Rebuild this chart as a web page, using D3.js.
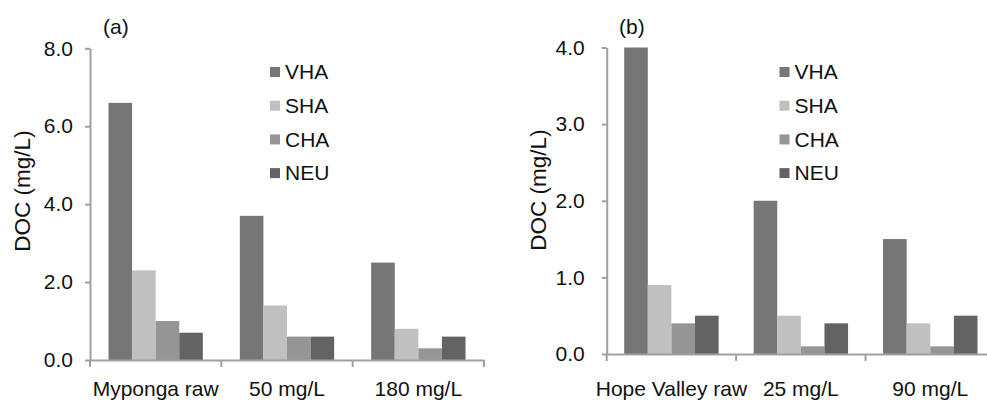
<!DOCTYPE html>
<html>
<head>
<meta charset="utf-8">
<script src="https://cdn.jsdelivr.net/npm/d3@7"></script>
<style>
  html, body { margin: 0; padding: 0; background: #fff; }
  svg text { font-family: "Liberation Sans", Arial, sans-serif; fill: #111; }
</style>
</head>
<body>
<svg id="chart" width="987" height="404"></svg>
<script>
// ---- Data ----
const series = ["VHA", "SHA", "CHA", "NEU"];
const colors = ["#767676", "#c0c0c0", "#959595", "#636363"];

const categoriesA = ["Myponga raw", "50 mg/L", "180 mg/L"];
const vhaA = [6.6, 3.7, 2.5];
const shaA = [2.3, 1.4, 0.8];
const chaA = [1.0, 0.6, 0.3];
const neuA = [0.7, 0.6, 0.6];
const ticksA = [0, 2, 4, 6, 8];

const categoriesB = ["Hope Valley raw", "25 mg/L", "90 mg/L"];
const vhaB = [4.0, 2.0, 1.5];
const shaB = [0.9, 0.5, 0.4];
const chaB = [0.4, 0.1, 0.1];
const neuB = [0.5, 0.4, 0.5];
const ticksB = [0, 1, 2, 3, 4];

const svg = d3.select("#chart");
const FS = "21px";

function panel(cfg) {
  const g = svg.append("g");
  const x = d3.scaleBand().domain(cfg.categories).range([cfg.x0, cfg.x1]).padding(0);
  const y = d3.scaleLinear().domain([0, cfg.ymax]).range([cfg.y0, cfg.ytop]);
  const xs = d3.scaleBand().domain(series)
    .range([cfg.groupPad, x.bandwidth() - cfg.groupPad]).padding(0);

  const data = cfg.categories.map((c, i) => ({
    cat: c,
    vals: cfg.values.map((arr, k) => ({ s: series[k], v: arr[i], color: colors[k] }))
  }));

  // bars
  const groups = g.selectAll("g.grp").data(data).join("g")
    .attr("transform", d => `translate(${x(d.cat)},0)`);
  groups.selectAll("rect").data(d => d.vals).join("rect")
    .attr("x", d => xs(d.s))
    .attr("width", xs.bandwidth())
    .attr("y", d => y(d.v))
    .attr("height", d => y(0) - y(d.v))
    .attr("fill", d => d.color);

  // y axis
  const yAxis = d3.axisLeft(y).tickValues(cfg.ticks).tickFormat(d3.format(".1f"))
    .tickSize(5).tickPadding(cfg.tickPad).tickSizeOuter(0);
  const ya = g.append("g").attr("transform", `translate(${cfg.x0},0)`).call(yAxis);
  ya.attr("font-size", null).attr("font-family", null);
  ya.select(".domain").attr("stroke", "#a0a0a0").attr("stroke-width", 2);
  ya.selectAll(".tick line").attr("stroke", "#a0a0a0").attr("stroke-width", 2);
  ya.selectAll(".tick text").style("font-size", FS).attr("fill", "#111");

  // x axis
  const xAxis = d3.axisBottom(x).tickSize(0).tickPadding(cfg.xPad).tickSizeOuter(0);
  const xa = g.append("g").attr("transform", `translate(0,${cfg.y0})`).call(xAxis);
  xa.attr("font-size", null).attr("font-family", null);
  xa.select(".domain").attr("stroke", "#a0a0a0").attr("stroke-width", 2);
  xa.selectAll(".tick text").style("font-size", FS).attr("fill", "#111");
  // category boundary tick marks
  const bounds = cfg.categories.map(c => x(c)).concat([cfg.x1]);
  xa.selectAll("line.bnd").data(bounds).join("line").attr("class", "bnd")
    .attr("x1", d => d).attr("x2", d => d).attr("y1", 0).attr("y2", 7)
    .attr("stroke", "#a0a0a0").attr("stroke-width", 2);

  // y title
  g.append("text")
    .attr("transform", `translate(${cfg.titleX},${cfg.titleY}) rotate(-90)`)
    .attr("text-anchor", "middle")
    .style("font-size", "22.5px")
    .text("DOC (mg/L)");

  // panel label
  g.append("text").attr("x", cfg.labelX).attr("y", 34)
    .style("font-size", FS).text(cfg.label);

  // legend
  const lg = g.append("g").attr("transform", `translate(${cfg.legX},67)`);
  const items = lg.selectAll("g").data(series).join("g")
    .attr("transform", (d, i) => `translate(0,${i * 33.7})`);
  items.append("rect").attr("width", 10).attr("height", 10)
    .attr("fill", (d, i) => colors[i]);
  items.append("text").attr("x", 15).attr("y", 5).attr("dy", "0.35em")
    .style("font-size", FS).text(d => d);
}

panel({
  categories: categoriesA, values: [vhaA, shaA, chaA, neuA], ticks: ticksA,
  ymax: 8, x0: 90, x1: 484, y0: 360, ytop: 48.3, groupPad: 18.5, tickPad: 12,
  xPad: 21, titleX: 30, titleY: 191, label: "(a)", labelX: 103, legX: 270
});
panel({
  categories: categoriesB, values: [vhaB, shaB, chaB, neuB], ticks: ticksB,
  ymax: 4, x0: 606.7, x1: 995, y0: 354, ytop: 47.5, groupPad: 17.5, tickPad: 17,
  xPad: 27, titleX: 546, titleY: 190, label: "(b)", labelX: 619, legX: 779.5
});
</script>
</body>
</html>
